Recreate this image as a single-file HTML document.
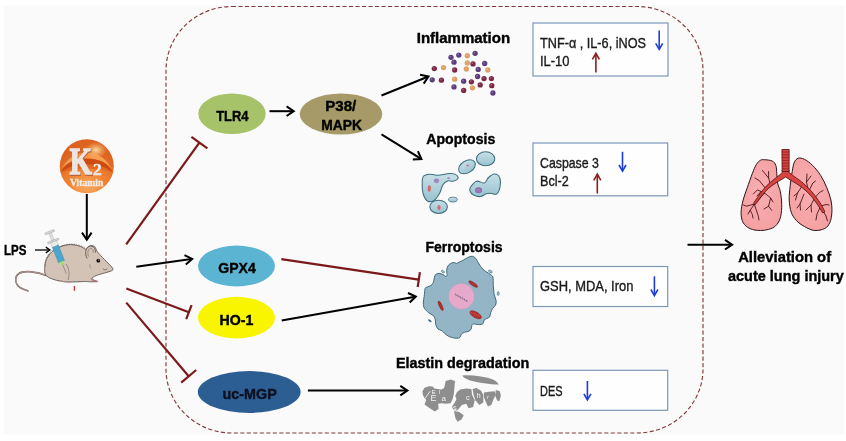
<!DOCTYPE html>
<html><head><meta charset="utf-8"><style>
html,body{margin:0;padding:0;background:#ffffff;}
svg{display:block;will-change:transform;}
text{-webkit-font-smoothing:antialiased;}
</style></head><body>
<svg width="846" height="441" viewBox="0 0 846 441">
<rect width="846" height="441" fill="#ffffff"/>
<rect x="4" y="5.5" width="840" height="429" fill="#fafafa"/>
<rect x="166" y="6.5" width="537" height="426.5" rx="66" ry="64" fill="none" stroke="#843a3a" stroke-width="1.15" stroke-dasharray="4.1 2.4"/>
<ellipse cx="232" cy="113.8" rx="33.7" ry="20.3" fill="#a6c36a"/>
<ellipse cx="341" cy="114" rx="41.3" ry="20.5" fill="#a59a68"/>
<ellipse cx="236.5" cy="266" rx="38.5" ry="20.4" fill="#5ab4d2"/>
<ellipse cx="236.5" cy="317.6" rx="38.5" ry="20.8" fill="#f9f500"/>
<ellipse cx="249.2" cy="392" rx="51.4" ry="20.9" fill="#2c5e94"/>
<text x="216.2" y="120.7" font-family="Liberation Sans" font-size="15" font-weight="bold" fill="#000" stroke="#000" stroke-width="0.4" text-anchor="start" textLength="32.3" lengthAdjust="spacingAndGlyphs" >TLR4</text>
<text x="325.3" y="110.8" font-family="Liberation Sans" font-size="15" font-weight="bold" fill="#000" stroke="#000" stroke-width="0.4" text-anchor="start" textLength="31" lengthAdjust="spacingAndGlyphs" >P38/</text>
<text x="321.2" y="129.7" font-family="Liberation Sans" font-size="15" font-weight="bold" fill="#000" stroke="#000" stroke-width="0.4" text-anchor="start" textLength="40.7" lengthAdjust="spacingAndGlyphs" >MAPK</text>
<text x="218.3" y="273.3" font-family="Liberation Sans" font-size="15" font-weight="bold" fill="#000" stroke="#000" stroke-width="0.4" text-anchor="start" textLength="37.5" lengthAdjust="spacingAndGlyphs" >GPX4</text>
<text x="219.5" y="324.8" font-family="Liberation Sans" font-size="15" font-weight="bold" fill="#000" stroke="#000" stroke-width="0.4" text-anchor="start" textLength="33.9" lengthAdjust="spacingAndGlyphs" >HO-1</text>
<text x="222.6" y="398.6" font-family="Liberation Sans" font-size="15" font-weight="bold" fill="#0b1020" stroke="#0b1020" stroke-width="0.4" text-anchor="start" textLength="54.2" lengthAdjust="spacingAndGlyphs" >uc-MGP</text>
<text x="416.8" y="43.3" font-family="Liberation Sans" font-size="15" font-weight="bold" fill="#000" stroke="#000" stroke-width="0.4" text-anchor="start" textLength="93.3" lengthAdjust="spacingAndGlyphs" >Inflammation</text>
<text x="426.3" y="144.3" font-family="Liberation Sans" font-size="15" font-weight="bold" fill="#000" stroke="#000" stroke-width="0.4" text-anchor="start" textLength="69" lengthAdjust="spacingAndGlyphs" >Apoptosis</text>
<text x="425.4" y="252.3" font-family="Liberation Sans" font-size="15" font-weight="bold" fill="#000" stroke="#000" stroke-width="0.4" text-anchor="start" textLength="77.2" lengthAdjust="spacingAndGlyphs" >Ferroptosis</text>
<text x="395.9" y="368.4" font-family="Liberation Sans" font-size="15" font-weight="bold" fill="#000" stroke="#000" stroke-width="0.4" text-anchor="start" textLength="133.3" lengthAdjust="spacingAndGlyphs" >Elastin degradation</text>
<text x="738.2" y="261.5" font-family="Liberation Sans" font-size="15" font-weight="bold" fill="#000" stroke="#000" stroke-width="0.4" text-anchor="start" textLength="92.9" lengthAdjust="spacingAndGlyphs" >Alleviation of</text>
<text x="728.0" y="280.7" font-family="Liberation Sans" font-size="15" font-weight="bold" fill="#000" stroke="#000" stroke-width="0.4" text-anchor="start" textLength="115.8" lengthAdjust="spacingAndGlyphs" >acute lung injury</text>
<text x="4.0" y="254.6" font-family="Liberation Sans" font-size="15" font-weight="bold" fill="#000" stroke="#000" stroke-width="0.4" text-anchor="start" textLength="22.5" lengthAdjust="spacingAndGlyphs" >LPS</text>
<line x1="269.5" y1="111.2" x2="292.9" y2="111.2" stroke="#000" stroke-width="2.0"/>
<polyline points="286.6,116.0 293.7,111.2 286.6,106.4" fill="none" stroke="#000" stroke-width="2.0" stroke-linejoin="miter" stroke-linecap="butt"/>
<line x1="381.5" y1="95.5" x2="427.8" y2="76.8" stroke="#000" stroke-width="2.0"/>
<polyline points="423.7,83.6 428.5,76.5 420.1,74.7" fill="none" stroke="#000" stroke-width="2.0" stroke-linejoin="miter" stroke-linecap="butt"/>
<line x1="381.5" y1="134.3" x2="420.7" y2="158.6" stroke="#000" stroke-width="2.0"/>
<polyline points="412.8,159.4 421.4,159.0 417.9,151.2" fill="none" stroke="#000" stroke-width="2.0" stroke-linejoin="miter" stroke-linecap="butt"/>
<line x1="136.3" y1="266.7" x2="191.4" y2="259.0" stroke="#000" stroke-width="2.0"/>
<polyline points="185.8,264.6 192.2,258.9 184.5,255.1" fill="none" stroke="#000" stroke-width="2.0" stroke-linejoin="miter" stroke-linecap="butt"/>
<line x1="281.7" y1="320.4" x2="415.0" y2="296.7" stroke="#000" stroke-width="2.0"/>
<polyline points="409.7,302.5 415.8,296.5 408.0,293.0" fill="none" stroke="#000" stroke-width="2.0" stroke-linejoin="miter" stroke-linecap="butt"/>
<line x1="307.9" y1="390.6" x2="406.6" y2="390.6" stroke="#000" stroke-width="2.0"/>
<polyline points="400.3,395.4 407.4,390.6 400.3,385.8" fill="none" stroke="#000" stroke-width="2.0" stroke-linejoin="miter" stroke-linecap="butt"/>
<line x1="687.5" y1="244.7" x2="731.3" y2="244.7" stroke="#000" stroke-width="2.0"/>
<polyline points="725.0,249.5 732.1,244.7 725.0,239.9" fill="none" stroke="#000" stroke-width="2.0" stroke-linejoin="miter" stroke-linecap="butt"/>
<line x1="86.8" y1="194.0" x2="86.8" y2="238.9" stroke="#000" stroke-width="2.0"/>
<polyline points="82.0,232.6 86.8,239.7 91.6,232.6" fill="none" stroke="#000" stroke-width="2.0" stroke-linejoin="miter" stroke-linecap="butt"/>
<line x1="35.0" y1="250.0" x2="49.1" y2="250.0" stroke="#000" stroke-width="1.3"/>
<polyline points="45.8,252.9 49.9,250.0 45.8,247.1" fill="none" stroke="#000" stroke-width="1.3" stroke-linejoin="miter" stroke-linecap="butt"/>
<line x1="126.2" y1="244.4" x2="199.4" y2="142.6" stroke="#7b1a1a" stroke-width="2.2"/>
<line x1="207.4" y1="148.3" x2="191.4" y2="136.9" stroke="#7b1a1a" stroke-width="2.2"/>
<line x1="126.3" y1="288.5" x2="188.9" y2="312.2" stroke="#7b1a1a" stroke-width="2.2"/>
<line x1="186.2" y1="319.2" x2="191.6" y2="305.2" stroke="#7b1a1a" stroke-width="2.2"/>
<line x1="126.3" y1="302.6" x2="188.7" y2="376.3" stroke="#7b1a1a" stroke-width="2.2"/>
<line x1="181.2" y1="382.6" x2="196.2" y2="370.0" stroke="#7b1a1a" stroke-width="2.2"/>
<line x1="281.3" y1="259.1" x2="418.8" y2="279.6" stroke="#7b1a1a" stroke-width="2.2"/>
<line x1="417.7" y1="287.0" x2="419.9" y2="272.2" stroke="#7b1a1a" stroke-width="2.2"/>
<rect x="533" y="23" width="135" height="53" fill="#fefefe" stroke="#7d97b7" stroke-width="1.2"/>
<rect x="533" y="143" width="134.7" height="52.8" fill="#fefefe" stroke="#7d97b7" stroke-width="1.2"/>
<rect x="533" y="266.5" width="134.7" height="40" fill="#fefefe" stroke="#7d97b7" stroke-width="1.2"/>
<rect x="533" y="370.3" width="134.7" height="40" fill="#fefefe" stroke="#7d97b7" stroke-width="1.2"/>
<text x="540.0" y="47.8" font-family="Liberation Sans" font-size="14.1" font-weight="normal" fill="#1a1a1a" stroke="#1a1a1a" stroke-width="0.35" text-anchor="start" textLength="106" lengthAdjust="spacingAndGlyphs" >TNF-α , IL-6, iNOS</text>
<text x="540.0" y="65.5" font-family="Liberation Sans" font-size="14.1" font-weight="normal" fill="#1a1a1a" stroke="#1a1a1a" stroke-width="0.35" text-anchor="start" textLength="29.5" lengthAdjust="spacingAndGlyphs" >IL-10</text>
<text x="540.0" y="167.8" font-family="Liberation Sans" font-size="14.1" font-weight="normal" fill="#1a1a1a" stroke="#1a1a1a" stroke-width="0.35" text-anchor="start" textLength="58.9" lengthAdjust="spacingAndGlyphs" >Caspase 3</text>
<text x="540.0" y="185.5" font-family="Liberation Sans" font-size="14.1" font-weight="normal" fill="#1a1a1a" stroke="#1a1a1a" stroke-width="0.35" text-anchor="start" textLength="28.7" lengthAdjust="spacingAndGlyphs" >Bcl-2</text>
<text x="540.0" y="291.3" font-family="Liberation Sans" font-size="14.1" font-weight="normal" fill="#1a1a1a" stroke="#1a1a1a" stroke-width="0.35" text-anchor="start" textLength="93.4" lengthAdjust="spacingAndGlyphs" >GSH, MDA, Iron</text>
<text x="540.0" y="395.5" font-family="Liberation Sans" font-size="14.1" font-weight="normal" fill="#1a1a1a" stroke="#1a1a1a" stroke-width="0.35" text-anchor="start" textLength="22.5" lengthAdjust="spacingAndGlyphs" >DES</text>
<line x1="659.2" y1="30.6" x2="659.2" y2="48.6" stroke="#1b3fd6" stroke-width="1.6"/>
<polyline points="655.7,43.3 659.2,49.4 662.7,43.3" fill="none" stroke="#1b3fd6" stroke-width="1.6" stroke-linejoin="miter" stroke-linecap="butt"/>
<line x1="595.9" y1="72.6" x2="595.9" y2="54.1" stroke="#8b1c1c" stroke-width="1.6"/>
<polyline points="599.4,59.4 595.9,53.3 592.4,59.4" fill="none" stroke="#8b1c1c" stroke-width="1.6" stroke-linejoin="miter" stroke-linecap="butt"/>
<line x1="622.5" y1="151.8" x2="622.5" y2="170.3" stroke="#1b3fd6" stroke-width="1.6"/>
<polyline points="619.0,165.0 622.5,171.1 626.0,165.0" fill="none" stroke="#1b3fd6" stroke-width="1.6" stroke-linejoin="miter" stroke-linecap="butt"/>
<line x1="597.3" y1="193.5" x2="597.3" y2="175.0" stroke="#8b1c1c" stroke-width="1.6"/>
<polyline points="600.8,180.3 597.3,174.2 593.8,180.3" fill="none" stroke="#8b1c1c" stroke-width="1.6" stroke-linejoin="miter" stroke-linecap="butt"/>
<line x1="654.4" y1="276.3" x2="654.4" y2="294.8" stroke="#1b3fd6" stroke-width="1.6"/>
<polyline points="650.9,289.5 654.4,295.6 657.9,289.5" fill="none" stroke="#1b3fd6" stroke-width="1.6" stroke-linejoin="miter" stroke-linecap="butt"/>
<line x1="587.4" y1="381.0" x2="587.4" y2="399.2" stroke="#1b3fd6" stroke-width="1.6"/>
<polyline points="583.9,393.9 587.4,400.0 590.9,393.9" fill="none" stroke="#1b3fd6" stroke-width="1.6" stroke-linejoin="miter" stroke-linecap="butt"/>
<defs>
<radialGradient id="kb" cx="50%" cy="88%" r="70%">
<stop offset="0" stop-color="#f8a555"/><stop offset="0.5" stop-color="#f08232"/><stop offset="1" stop-color="#dc6420"/>
</radialGradient>
<linearGradient id="kh" x1="0" y1="0" x2="0" y2="1">
<stop offset="0" stop-color="#f28a3c"/><stop offset="0.35" stop-color="#f7a050"/><stop offset="1" stop-color="#f59a48"/>
</linearGradient>
<radialGradient id="kg" cx="50%" cy="50%" r="50%">
<stop offset="0" stop-color="#fde0a0" stop-opacity="0.95"/><stop offset="1" stop-color="#fcc080" stop-opacity="0"/>
</radialGradient>
<radialGradient id="lungg" cx="50%" cy="45%" r="60%">
<stop offset="0" stop-color="#f9aeb0"/><stop offset="1" stop-color="#f4a0a2"/>
</radialGradient>
<linearGradient id="apo" x1="0" y1="0" x2="0" y2="1">
<stop offset="0" stop-color="#c8e0e8"/><stop offset="1" stop-color="#98c2d0"/>
</linearGradient>
</defs>
<circle cx="86.8" cy="166.2" r="27" fill="url(#kb)"/>
<path d="M61.5,170.5 A26.7,26.7 0 0 1 111.9,170.5 C108,163 99,158.8 86.8,158.5 C75,158.8 65.5,163 61.5,170.5Z" fill="url(#kh)"/>
<path d="M61.5,170.5 C65.5,163 75,158.8 86.8,158.5 C99,158.8 108,163 111.9,170.5 L112.6,172.5 C108,168.5 100,165 86.8,164.6 C74,165 66,168.5 61,172.5Z" fill="#cf4a12"/>
<path d="M61,172.5 C66,168.5 74,165 86.8,164.6 C100,165 108,168.5 112.6,172.5 C108,170.8 100,168.6 86.8,168.4 C74,168.6 66,170.8 61,172.5Z" fill="#e0621c" fill-opacity="0.8"/>
<ellipse cx="96" cy="150" rx="11" ry="8" fill="url(#kg)"/>
<ellipse cx="86.7" cy="187" rx="12" ry="5" fill="#f7a25a" fill-opacity="0.45"/>
<text x="0" y="0" font-family="Liberation Serif" font-weight="bold" font-size="38.5" fill="#b8643a" stroke="#b8643a" stroke-width="1.8" transform="translate(70.3,174.6) scale(0.74,1)">K</text>
<text x="0" y="0" font-family="Liberation Serif" font-weight="bold" font-size="38.5" fill="#ebe4e0" stroke="#ebe4e0" stroke-width="1.6" transform="translate(69.7,173.8) scale(0.74,1)">K</text>
<text x="93" y="175.2" font-family="Liberation Serif" font-weight="bold" font-size="17.5" fill="#ede6e2" stroke="#ede6e2" stroke-width="0.5">2</text>
<text x="69.9" y="185.7" font-family="Liberation Serif" font-weight="bold" font-size="10.8" fill="#f3ece6" stroke="#f3ece6" stroke-width="0.3" textLength="33.4" lengthAdjust="spacingAndGlyphs">Vitamin</text>
<path d="M46,275.5 C38,272 24,270 19,273.5 C14,277 15,284 20,287.5 C23,289.5 26,290 28,291" fill="none" stroke="#6d5a55" stroke-width="1.6" stroke-linecap="round"/>
<path d="M46,275.5 C38,272 24,270 19,273.5 C14,277 15,284 20,287.5 C23,289.5 26,290 28,291" fill="none" stroke="#d8b8b8" stroke-width="0.7" stroke-linecap="round"/>
<path d="M45.5,274.8 C44.3,272.7 44.7,268.9 44.9,266.2 C45.1,263.5 45.5,261.2 46.7,258.8 C47.9,256.4 49.8,253.6 52.3,251.5 C54.8,249.4 58.7,247.2 62.0,246.0 C65.3,244.8 68.8,244.5 71.9,244.6 C75.0,244.7 78.1,245.6 80.4,246.4 C82.7,247.2 84.6,249.1 85.8,249.2 C87.0,249.3 86.6,247.8 87.5,247.2 C88.4,246.6 89.8,245.7 91.0,245.6 C92.2,245.5 93.9,246.0 94.8,246.8 C95.7,247.6 95.8,249.2 96.6,250.5 C97.4,251.8 97.9,252.5 99.5,254.3 C101.1,256.1 104.0,259.0 106.2,261.3 C108.4,263.6 111.7,266.6 112.6,268.2 C113.5,269.8 113.0,270.0 111.5,270.8 C110.0,271.6 106.3,272.4 103.7,273.2 C101.1,274.0 98.0,274.7 96.0,275.6 C94.0,276.5 92.2,277.6 92.0,278.4 C91.8,279.2 94.1,280.1 95.0,280.6 C95.9,281.1 98.3,281.4 97.5,281.6 C96.7,281.8 92.0,281.8 90.0,281.8 C88.0,281.8 87.5,281.5 85.3,281.5 C83.1,281.5 79.6,281.7 76.8,281.8 C74.0,281.9 71.2,282.1 68.5,282.0 C65.8,281.9 63.5,281.7 60.8,281.2 C58.1,280.7 54.8,280.1 52.3,279.0 C49.8,277.9 46.7,276.9 45.5,274.8Z" fill="#d3c3b7" stroke="#5e5652" stroke-width="0.9"/>
<path d="M44.9,266.2 C45.5,258 49,253 53,250.5 C60,246 68,244 72,244.3 C78,244.8 82,246 85,248" fill="none" stroke="#6a625e" stroke-width="1.6" stroke-dasharray="0.5 1.2"/>
<path d="M87.2,258.5 C84.6,254 85.3,248 89.4,246.3 C93.2,245.2 95.8,248.6 95.4,252.6" fill="#d5c5b7" stroke="#5e5652" stroke-width="0.9"/>
<path d="M88.6,256.5 C87.2,253 88,249.2 90.4,248.4 C92.4,248 93.6,250.4 93.2,252.8" fill="none" stroke="#7a6e6a" stroke-width="0.7"/>
<circle cx="98.3" cy="260.7" r="1.9" fill="#111"/><circle cx="98.8" cy="260.1" r="0.5" fill="#fff"/>
<path d="M103,268.8 C104.5,270.3 106.3,270 107.3,268.6" fill="none" stroke="#6a5a55" stroke-width="0.8"/>
<path d="M90,264 C89.5,266 90,268 91.5,269" fill="none" stroke="#8a7e78" stroke-width="0.6"/>
<path d="M66,264 C69,268 70,274 68,280" fill="none" stroke="#7a6e6a" stroke-width="0.7"/>
<path d="M90.5,278.8 C92,280.5 95,281.2 98,281.4" fill="none" stroke="#c47070" stroke-width="1"/>
<path d="M61,281 C64,282 68,282 71,281.6" fill="none" stroke="#b28a8a" stroke-width="1"/>
<line x1="74.4" y1="286" x2="74.4" y2="290.8" stroke="#d03030" stroke-width="1.3"/>
<g transform="translate(49.6,231.8) rotate(-21.7)"><rect x="-5" y="-0.6" width="10" height="2" rx="0.5" fill="#d9d9d9" stroke="#9a9a9a" stroke-width="0.4"/><rect x="-1.3" y="1.4" width="2.6" height="8" fill="#e2e2e2" stroke="#a8a8a8" stroke-width="0.4"/><rect x="-6" y="9" width="12" height="1.8" rx="0.5" fill="#d6d6d6" stroke="#9a9a9a" stroke-width="0.4"/><rect x="-3.2" y="10.8" width="6.4" height="5" fill="#ececec" stroke="#a8a8a8" stroke-width="0.4"/><rect x="-3.2" y="15.5" width="6.4" height="16.5" fill="#4ba6cf" stroke="#3b80a5" stroke-width="0.4"/><path d="M-2.4,32 L2.4,32 L1.1,36 L-1.1,36Z" fill="#a6dc70"/><line x1="0" y1="35.5" x2="0" y2="45" stroke="#777" stroke-width="0.6"/></g>
<circle cx="451" cy="57.3" r="2.65" fill="#5b3c7c"/>
<circle cx="450.4" cy="56.599999999999994" r="0.9" fill="#fff" fill-opacity="0.25"/>
<circle cx="458.8" cy="55.1" r="2.65" fill="#5b3c7c"/>
<circle cx="458.2" cy="54.4" r="0.9" fill="#fff" fill-opacity="0.25"/>
<circle cx="467.3" cy="55.7" r="2.65" fill="#dca065"/>
<circle cx="466.7" cy="55.0" r="0.9" fill="#fff" fill-opacity="0.25"/>
<circle cx="475.1" cy="53.3" r="2.65" fill="#5b3c7c"/>
<circle cx="474.5" cy="52.599999999999994" r="0.9" fill="#fff" fill-opacity="0.25"/>
<circle cx="454" cy="62.2" r="2.65" fill="#5b3c7c"/>
<circle cx="453.4" cy="61.5" r="0.9" fill="#fff" fill-opacity="0.25"/>
<circle cx="467.3" cy="62.9" r="2.65" fill="#dca065"/>
<circle cx="466.7" cy="62.199999999999996" r="0.9" fill="#fff" fill-opacity="0.25"/>
<circle cx="473" cy="63.9" r="2.65" fill="#7d2747"/>
<circle cx="472.4" cy="63.199999999999996" r="0.9" fill="#fff" fill-opacity="0.25"/>
<circle cx="484.7" cy="63.5" r="2.65" fill="#5b3c7c"/>
<circle cx="484.09999999999997" cy="62.8" r="0.9" fill="#fff" fill-opacity="0.25"/>
<circle cx="434.3" cy="68.6" r="2.65" fill="#7d2747"/>
<circle cx="433.7" cy="67.89999999999999" r="0.9" fill="#fff" fill-opacity="0.25"/>
<circle cx="443.5" cy="67.6" r="2.65" fill="#dca065"/>
<circle cx="442.9" cy="66.89999999999999" r="0.9" fill="#fff" fill-opacity="0.25"/>
<circle cx="454.7" cy="70" r="2.65" fill="#7d2747"/>
<circle cx="454.09999999999997" cy="69.3" r="0.9" fill="#fff" fill-opacity="0.25"/>
<circle cx="466.3" cy="69" r="2.65" fill="#dca065"/>
<circle cx="465.7" cy="68.3" r="0.9" fill="#fff" fill-opacity="0.25"/>
<circle cx="478.2" cy="69.4" r="2.65" fill="#5b3c7c"/>
<circle cx="477.59999999999997" cy="68.7" r="0.9" fill="#fff" fill-opacity="0.25"/>
<circle cx="487.8" cy="70" r="2.65" fill="#dca065"/>
<circle cx="487.2" cy="69.3" r="0.9" fill="#fff" fill-opacity="0.25"/>
<circle cx="432.2" cy="79.8" r="2.65" fill="#5b3c7c"/>
<circle cx="431.59999999999997" cy="79.1" r="0.9" fill="#fff" fill-opacity="0.25"/>
<circle cx="441.4" cy="80.2" r="2.65" fill="#7d2747"/>
<circle cx="440.79999999999995" cy="79.5" r="0.9" fill="#fff" fill-opacity="0.25"/>
<circle cx="454.7" cy="79.2" r="2.65" fill="#dca065"/>
<circle cx="454.09999999999997" cy="78.5" r="0.9" fill="#fff" fill-opacity="0.25"/>
<circle cx="463.7" cy="81.2" r="2.65" fill="#5b3c7c"/>
<circle cx="463.09999999999997" cy="80.5" r="0.9" fill="#fff" fill-opacity="0.25"/>
<circle cx="471.4" cy="81.8" r="2.65" fill="#7d2747"/>
<circle cx="470.79999999999995" cy="81.1" r="0.9" fill="#fff" fill-opacity="0.25"/>
<circle cx="477.6" cy="76.5" r="2.65" fill="#5b3c7c"/>
<circle cx="477.0" cy="75.8" r="0.9" fill="#fff" fill-opacity="0.25"/>
<circle cx="484" cy="78.6" r="2.65" fill="#7d2747"/>
<circle cx="483.4" cy="77.89999999999999" r="0.9" fill="#fff" fill-opacity="0.25"/>
<circle cx="491.4" cy="78.6" r="2.65" fill="#7d2747"/>
<circle cx="490.79999999999995" cy="77.89999999999999" r="0.9" fill="#fff" fill-opacity="0.25"/>
<circle cx="454" cy="86.9" r="2.65" fill="#5b3c7c"/>
<circle cx="453.4" cy="86.2" r="0.9" fill="#fff" fill-opacity="0.25"/>
<circle cx="463.7" cy="90.4" r="2.65" fill="#7d2747"/>
<circle cx="463.09999999999997" cy="89.7" r="0.9" fill="#fff" fill-opacity="0.25"/>
<circle cx="472.4" cy="87.8" r="2.65" fill="#dca065"/>
<circle cx="471.79999999999995" cy="87.1" r="0.9" fill="#fff" fill-opacity="0.25"/>
<circle cx="480.2" cy="84.9" r="2.65" fill="#7d2747"/>
<circle cx="479.59999999999997" cy="84.2" r="0.9" fill="#fff" fill-opacity="0.25"/>
<circle cx="491.8" cy="85.7" r="2.65" fill="#7d2747"/>
<circle cx="491.2" cy="85.0" r="0.9" fill="#fff" fill-opacity="0.25"/>
<circle cx="492.9" cy="93" r="2.65" fill="#5b3c7c"/>
<circle cx="492.29999999999995" cy="92.3" r="0.9" fill="#fff" fill-opacity="0.25"/>
<path d="M423.3,176.5 C424.6,174.7 427.6,174.4 430.0,174.2 C432.4,174.0 435.3,175.2 438.0,175.2 C440.7,175.2 443.7,174.3 446.0,174.0 C448.3,173.7 450.2,173.3 452.0,173.6 C453.8,173.8 456.1,174.6 457.0,175.5 C457.9,176.4 458.3,178.1 457.6,179.0 C456.9,179.9 454.7,180.9 453.0,181.2 C451.3,181.5 449.2,180.4 447.5,181.0 C445.8,181.6 444.1,182.9 442.8,185.0 C441.5,187.1 441.0,190.9 439.5,193.5 C438.0,196.1 436.0,199.2 434.0,200.5 C432.0,201.8 429.3,202.1 427.5,201.0 C425.7,199.9 424.1,196.7 423.2,194.0 C422.3,191.3 422.2,187.9 422.2,185.0 C422.2,182.1 422.0,178.3 423.3,176.5Z" fill="url(#apo)" stroke="#3e6e7c" stroke-width="1.05"/>
<ellipse cx="438.6" cy="206.8" rx="8.8" ry="6.6" fill="url(#apo)" stroke="#3e6e7c" stroke-width="1.05"/>
<ellipse cx="452.9" cy="199.6" rx="4.4" ry="2.4" fill="url(#apo)" stroke="#3e6e7c" stroke-width="0.8"/>
<ellipse cx="467" cy="166.8" rx="9.2" ry="6" transform="rotate(-32 467 166.8)" fill="url(#apo)" stroke="#3e6e7c" stroke-width="1.05"/>
<ellipse cx="485.6" cy="158.8" rx="9.2" ry="7" fill="url(#apo)" stroke="#3e6e7c" stroke-width="1.05"/>
<path d="M470.6,187.0 C471.7,185.4 474.2,181.9 476.5,181.2 C478.8,180.5 482.5,183.6 484.5,183.0 C486.5,182.4 486.8,179.0 488.5,177.5 C490.2,176.0 492.6,174.0 494.5,174.0 C496.4,174.0 498.7,175.3 499.6,177.5 C500.5,179.7 500.5,184.2 500.0,187.0 C499.5,189.8 498.1,193.0 496.5,194.0 C494.9,195.0 492.2,193.2 490.5,193.2 C488.8,193.2 487.7,193.2 486.0,193.8 C484.3,194.4 482.6,196.4 480.5,196.6 C478.4,196.8 475.2,195.9 473.5,195.0 C471.8,194.1 470.5,192.3 470.0,191.0 C469.5,189.7 469.5,188.6 470.6,187.0Z" fill="url(#apo)" stroke="#3e6e7c" stroke-width="1.05"/>
<ellipse cx="436.5" cy="180.8" rx="2.4" ry="2" fill="#a58ac0" stroke="#7a6098" stroke-width="0.4"/>
<ellipse cx="429.3" cy="188.5" rx="1.6" ry="3.2" fill="#d26a6a"/>
<ellipse cx="439" cy="207.5" rx="1.6" ry="2.6" fill="#d26a6a"/>
<ellipse cx="478.6" cy="190.2" rx="3.2" ry="2.6" fill="#9a78b8" stroke="#6a4d8a" stroke-width="0.5"/>
<ellipse cx="467.5" cy="165.5" rx="1.5" ry="1" fill="#c07a9a"/>
<ellipse cx="448.6" cy="178.2" rx="1.4" ry="1.1" fill="#b08ac0"/>
<path d="M424.8,290.2 C425.0,288.8 424.9,288.4 425.4,287.8 C425.9,287.2 426.7,287.3 427.6,286.9 C428.5,286.5 430.1,286.1 431.0,285.4 C431.9,284.7 432.8,283.9 433.3,282.6 C433.9,281.3 433.9,279.2 434.3,277.8 C434.7,276.4 434.9,275.2 435.7,274.5 C436.5,273.8 437.8,273.5 439.0,273.5 C440.2,273.5 441.8,274.0 442.9,274.5 C444.0,275.0 445.0,276.2 445.7,276.4 C446.4,276.5 446.9,276.3 447.1,275.4 C447.3,274.5 446.6,272.6 446.7,271.1 C446.8,269.6 447.0,267.7 447.6,266.4 C448.2,265.1 449.5,264.1 450.5,263.5 C451.5,262.9 452.8,262.6 453.8,262.6 C454.8,262.6 456.0,263.5 456.7,263.5 C457.4,263.5 457.2,263.0 458.1,262.6 C459.0,262.2 460.6,261.6 461.8,261.0 C463.1,260.4 464.3,259.4 465.6,258.7 C466.9,258.0 468.3,257.2 469.4,256.8 C470.5,256.4 471.4,256.2 472.3,256.3 C473.2,256.4 474.3,257.0 475.1,257.7 C475.9,258.4 476.2,259.3 477.0,260.6 C477.8,261.9 478.9,263.9 479.9,265.3 C480.9,266.7 481.7,268.0 482.8,269.1 C483.9,270.2 485.3,271.1 486.6,272.0 C487.9,272.9 489.4,273.6 490.4,274.4 C491.4,275.2 492.3,275.8 492.8,276.8 C493.3,277.8 493.1,279.2 493.2,280.6 C493.3,282.0 493.1,283.7 493.2,285.3 C493.3,286.9 493.5,288.6 493.7,290.1 C493.9,291.6 493.8,292.7 494.2,294.5 C494.6,296.3 495.9,298.9 496.1,300.7 C496.3,302.5 496.1,303.8 495.5,305.1 C494.9,306.4 493.6,307.0 492.8,308.3 C492.0,309.6 491.1,311.2 490.6,312.7 C490.1,314.1 490.3,316.0 489.6,317.0 C488.9,318.0 487.2,318.1 486.3,318.7 C485.4,319.2 484.7,319.5 484.1,320.3 C483.6,321.1 483.7,322.9 483.0,323.6 C482.3,324.3 481.2,324.5 479.8,324.6 C478.4,324.7 475.6,324.1 474.3,324.1 C473.0,324.1 472.6,323.8 472.1,324.6 C471.6,325.4 471.6,327.9 471.1,329.0 C470.6,330.1 470.0,330.6 468.9,331.2 C467.8,331.8 465.7,331.8 464.5,332.3 C463.3,332.8 462.3,333.1 461.5,334.0 C460.7,334.9 460.6,336.8 459.8,337.5 C459.1,338.2 458.2,338.2 457.0,338.2 C455.8,338.2 454.1,338.0 452.6,337.7 C451.2,337.4 449.7,336.8 448.3,336.1 C446.9,335.4 445.6,334.2 444.5,333.3 C443.4,332.4 442.9,331.3 441.8,330.6 C440.7,329.9 439.0,330.0 438.0,329.0 C437.0,328.0 436.3,326.2 435.8,324.6 C435.3,323.0 435.6,320.7 435.2,319.2 C434.8,317.7 434.2,316.5 433.1,315.4 C432.0,314.3 430.1,313.9 428.7,312.7 C427.2,311.5 425.3,309.9 424.4,308.3 C423.5,306.7 423.3,304.9 423.3,302.9 C423.3,300.9 423.9,298.5 424.2,296.4 C424.4,294.3 424.6,291.6 424.8,290.2Z" fill="#93b5c6" stroke="#3d6b7a" stroke-width="1"/>
<circle cx="461.4" cy="296.4" r="12.6" fill="#e7a9ca"/>
<circle cx="461.4" cy="296.4" r="12.8" fill="none" stroke="#d99ec0" stroke-width="0.8" stroke-dasharray="0.7 0.7"/>
<line x1="455.5" y1="293.6" x2="456.1" y2="295.6" stroke="#6a5a7e" stroke-width="0.9"/>
<line x1="457.7" y1="294.9" x2="458.3" y2="296.9" stroke="#6a5a7e" stroke-width="0.9"/>
<line x1="459.9" y1="296.2" x2="460.5" y2="298.2" stroke="#6a5a7e" stroke-width="0.9"/>
<line x1="462.1" y1="297.4" x2="462.7" y2="299.4" stroke="#6a5a7e" stroke-width="0.9"/>
<line x1="464.3" y1="298.7" x2="464.9" y2="300.7" stroke="#6a5a7e" stroke-width="0.9"/>
<line x1="466.5" y1="300.0" x2="467.1" y2="302.0" stroke="#6a5a7e" stroke-width="0.9"/>
<line x1="455.8" y1="294.6" x2="466.8" y2="301" stroke="#8a6a8e" stroke-width="0.4"/>
<ellipse cx="473.2" cy="284.1" rx="5.2" ry="1.6" transform="rotate(34 473.2 284.1)" fill="#b3302e" stroke="#7a1a1a" stroke-width="0.4"/>
<ellipse cx="440.7" cy="305.8" rx="5.1" ry="1.5" transform="rotate(65 440.7 305.8)" fill="#b3302e" stroke="#7a1a1a" stroke-width="0.4"/>
<ellipse cx="475.6" cy="314.8" rx="6.5" ry="2.9" transform="rotate(30 475.6 314.8)" fill="#b3302e" stroke="#7a1a1a" stroke-width="0.4"/>
<path d="M471,312 l1,2 M473.5,312.5 l1,2.3 M476,313.5 l1,2.3 M478.5,314.5 l0.8,2" stroke="#e07070" stroke-width="0.5"/>
<ellipse cx="442.9" cy="271.6" rx="1.7" ry="1" transform="rotate(35 442.9 271.6)" fill="#a9c8d3" stroke="#3d6b7a" stroke-width="0.6"/>
<ellipse cx="490.4" cy="271.5" rx="2" ry="1.1" transform="rotate(30 490.4 271.5)" fill="#a9c8d3" stroke="#3d6b7a" stroke-width="0.6"/>
<ellipse cx="498.2" cy="293.5" rx="1" ry="1.9" fill="#a9c8d3" stroke="#3d6b7a" stroke-width="0.6"/>
<ellipse cx="429.8" cy="320.8" rx="2" ry="0.9" transform="rotate(35 429.8 320.8)" fill="#3d6b7a"/>
<polygon points="422.4,391.3 424.5,387.8 428.9,386.2 432.7,386.4 434.3,388.6 441.4,389.4 444.1,388.1 445.7,381 450.6,379.6 455,381 454.5,387 453.9,393.5 452.8,398.4 450.6,403.3 445.7,403.8 441.4,403.3 438.1,403.8 438.7,408.7 434.9,411.5 430.5,408.7 424.5,404.4 426.2,400 424.5,397.9 422.9,395.1" fill="#8e8e8e"/>
<polygon points="453.9,410.9 459.3,412 463.7,415.3 461.5,419.6 457.7,421.8 455.5,418.5" fill="#8e8e8e"/>
<polygon points="457,392 460.1,389.6 466.3,388.4 471.4,389 472,394.7 474.8,400.3 473.1,407.1 468.6,408.3 466.3,403.7 461.8,404.9 459,408.5 457,410.5 453.5,410 452,406.5 454.5,403 456.5,399 455.2,396" fill="#8e8e8e"/>
<polygon points="472.6,389 476.5,387.9 481.1,390.7 483.3,394.7 483.3,402.6 479.4,404.9 475.4,400.3 473.6,394.7" fill="#8e8e8e"/>
<polygon points="483.9,392.4 489,391.8 494.7,391.3 495.8,394.7 493.5,399.2 491.3,404.9 487.9,406.6 485.6,401.5 483.9,397" fill="#8e8e8e"/>
<polygon points="495.8,390.1 499.8,391.3 500.9,395.8 499.2,401.5 497,400.3 495.3,395.8" fill="#8e8e8e"/>
<path d="M462.2,375.6 C470,374.6 482,376 490,378.5 C494,379.8 497,381.5 498.9,384.6 C490,384.4 478,382.6 470,380.4 C466,379.2 463.5,377.6 462.2,375.6Z" fill="#8e8e8e"/>
<line x1="425" y1="398.6" x2="430.2" y2="391.2" stroke="#fcfcfc" stroke-width="0.8"/>
<text x="430.6" y="400.6" font-family="Liberation Sans" font-size="9" fill="#f4f4f4">E</text>
<text x="431.5" y="393.6" font-family="Liberation Sans" font-size="6" fill="#f4f4f4">E</text>
<text x="439" y="394" font-family="Liberation Sans" font-size="6" fill="#f4f4f4">l</text>
<text x="441.5" y="401" font-family="Liberation Sans" font-size="8" fill="#f4f4f4">a</text>
<text x="453" y="410" font-family="Liberation Sans" font-size="7.5" fill="#f4f4f4">s</text>
<text x="466" y="400" font-family="Liberation Sans" font-size="7.5" fill="#f4f4f4">c</text>
<text x="476.5" y="397.5" font-family="Liberation Sans" font-size="7.5" fill="#f4f4f4">h</text>
<text x="487" y="399" font-family="Liberation Sans" font-size="6" fill="#f4f4f4">r</text>
<line x1="456.5" y1="386" x2="456.8" y2="392" stroke="#f4f4f4" stroke-width="0.6"/>
<path d="M764.5,159.7 C766.5,159.8 770.3,160.1 772.2,161.0 C774.1,161.9 775.0,163.3 775.8,165.4 C776.6,167.5 776.5,170.5 776.8,173.6 C777.1,176.7 777.2,180.8 777.8,183.8 C778.4,186.9 779.8,188.5 780.4,191.9 C781.0,195.3 781.7,200.1 781.7,204.2 C781.8,208.3 781.5,213.0 780.7,216.4 C779.9,219.8 778.5,222.6 776.8,224.6 C775.1,226.6 773.4,227.7 770.7,228.7 C768.0,229.7 763.8,230.5 760.4,230.5 C757.0,230.5 753.1,230.0 750.2,228.7 C747.3,227.4 744.6,225.3 743.1,222.6 C741.6,219.9 741.1,216.1 741.1,212.3 C741.1,208.6 742.1,204.2 743.1,200.1 C744.1,196.0 745.7,192.3 747.2,187.9 C748.7,183.5 750.8,177.5 752.3,173.6 C753.8,169.7 755.0,166.6 756.4,164.4 C757.8,162.2 759.0,161.1 760.4,160.3 C761.8,159.5 762.5,159.6 764.5,159.7Z" fill="url(#lungg)" stroke="#2a1416" stroke-width="1"/>
<path d="M798.3,158.2 C800.0,157.7 802.0,158.1 804.4,159.3 C806.8,160.5 809.9,162.7 812.6,165.4 C815.3,168.1 818.3,171.8 820.7,175.5 C823.1,179.2 825.1,183.7 826.8,187.8 C828.5,191.9 830.0,195.9 830.9,200.0 C831.8,204.1 832.1,208.5 831.9,212.2 C831.7,215.9 831.1,219.7 829.9,222.4 C828.7,225.1 827.3,227.2 824.8,228.5 C822.2,229.8 818.0,230.8 814.6,230.5 C811.2,230.2 807.5,228.2 804.4,226.5 C801.3,224.8 798.5,222.8 796.3,220.4 C794.1,218.0 792.4,215.6 791.2,212.2 C790.0,208.8 789.4,204.4 789.2,200.0 C789.0,195.6 789.7,190.4 790.2,185.7 C790.7,180.9 791.5,175.4 792.2,171.5 C792.9,167.6 793.3,164.5 794.3,162.3 C795.3,160.1 796.6,158.7 798.3,158.2Z" fill="url(#lungg)" stroke="#2a1416" stroke-width="1"/>
<path d="M764.5,193 L758.4,200.1 L754.3,204.2 L750.2,210.3 L748,214" fill="none" stroke="#4a1418" stroke-width="0.9" stroke-linejoin="round" stroke-linecap="round"/>
<path d="M754.3,204.2 L746.2,206.2 L743.5,205" fill="none" stroke="#4a1418" stroke-width="0.9" stroke-linejoin="round" stroke-linecap="round"/>
<path d="M750.2,210.3 L752.3,214.4 L753,218" fill="none" stroke="#4a1418" stroke-width="0.9" stroke-linejoin="round" stroke-linecap="round"/>
<path d="M754.3,204.2 L758.4,216.4 L759,220" fill="none" stroke="#4a1418" stroke-width="0.9" stroke-linejoin="round" stroke-linecap="round"/>
<path d="M770.7,185.8 L768.6,178 L768.6,171.5" fill="none" stroke="#4a1418" stroke-width="0.9" stroke-linejoin="round" stroke-linecap="round"/>
<path d="M768.6,178 L762.5,170.5" fill="none" stroke="#4a1418" stroke-width="0.9" stroke-linejoin="round" stroke-linecap="round"/>
<path d="M766,189 L759.4,180.7 L755,178" fill="none" stroke="#4a1418" stroke-width="0.9" stroke-linejoin="round" stroke-linecap="round"/>
<path d="M764.5,193 L757.4,189.9 L753.3,194" fill="none" stroke="#4a1418" stroke-width="0.9" stroke-linejoin="round" stroke-linecap="round"/>
<path d="M761,191.5 L757,196" fill="none" stroke="#4a1418" stroke-width="0.9" stroke-linejoin="round" stroke-linecap="round"/>
<path d="M764.5,193 L770.7,198 L768.6,206.2 L771.7,210.3" fill="none" stroke="#4a1418" stroke-width="0.9" stroke-linejoin="round" stroke-linecap="round"/>
<path d="M768.6,206.2 L764,209" fill="none" stroke="#4a1418" stroke-width="0.9" stroke-linejoin="round" stroke-linecap="round"/>
<path d="M770.7,198 L773,202" fill="none" stroke="#4a1418" stroke-width="0.9" stroke-linejoin="round" stroke-linecap="round"/>
<path d="M823.8,212.2 L826,216 L827.5,221" fill="none" stroke="#4a1418" stroke-width="0.9" stroke-linejoin="round" stroke-linecap="round"/>
<path d="M820.7,206.1 L826,204.5 L829,205" fill="none" stroke="#4a1418" stroke-width="0.9" stroke-linejoin="round" stroke-linecap="round"/>
<path d="M820.7,206.1 L817,214 L816,220" fill="none" stroke="#4a1418" stroke-width="0.9" stroke-linejoin="round" stroke-linecap="round"/>
<path d="M814.6,198 L819.5,192.5 L823,190.5" fill="none" stroke="#4a1418" stroke-width="0.9" stroke-linejoin="round" stroke-linecap="round"/>
<path d="M814.6,198 L811,205 L811.5,212" fill="none" stroke="#4a1418" stroke-width="0.9" stroke-linejoin="round" stroke-linecap="round"/>
<path d="M811,205 L806,210" fill="none" stroke="#4a1418" stroke-width="0.9" stroke-linejoin="round" stroke-linecap="round"/>
<path d="M808.5,191.8 L806.5,182 L807,174" fill="none" stroke="#4a1418" stroke-width="0.9" stroke-linejoin="round" stroke-linecap="round"/>
<path d="M806.5,182 L811,176" fill="none" stroke="#4a1418" stroke-width="0.9" stroke-linejoin="round" stroke-linecap="round"/>
<path d="M808.5,191.8 L812.8,183 L815.5,181" fill="none" stroke="#4a1418" stroke-width="0.9" stroke-linejoin="round" stroke-linecap="round"/>
<path d="M802.4,185.7 L797.5,193 L795.5,200" fill="none" stroke="#4a1418" stroke-width="0.9" stroke-linejoin="round" stroke-linecap="round"/>
<path d="M797.5,193 L794,196" fill="none" stroke="#4a1418" stroke-width="0.9" stroke-linejoin="round" stroke-linecap="round"/>
<path d="M804,194 L800,204 L800.5,210" fill="none" stroke="#4a1418" stroke-width="0.9" stroke-linejoin="round" stroke-linecap="round"/>
<path d="M800,204 L797,208" fill="none" stroke="#4a1418" stroke-width="0.9" stroke-linejoin="round" stroke-linecap="round"/>
<path d="M782.2,170 L782.2,172.5 C779,176 774,179 769.5,183 C765,187 761,192 757.5,197.5 L753.3,203.6 L755.2,204.8 L759.6,198.8 C763,193.8 767,189.4 771.5,186 C776,182.5 781,180 785.6,177 C790,180 795,182.5 800,186 C805,189.5 810,194.5 813.5,199 C817,203.5 820,208 822.7,213 L824.9,211.8 C822.5,206.5 819.5,201.5 816,197 C812.5,192 808,187.5 803.5,183.5 C798.5,179 793,176 789.1,172.5 L789.1,170Z" fill="#d8423f" stroke="#4a1014" stroke-width="0.8"/>
<path d="M781.9,149.5 L789.2,149.5 L789.1,171.5 L782.1,171.5Z" fill="#d8423f" stroke="#4a1014" stroke-width="0.8"/>
<line x1="782.2" y1="152" x2="788.9" y2="152" stroke="#7a1418" stroke-width="0.6"/>
<line x1="782.2" y1="154.8" x2="788.9" y2="154.8" stroke="#7a1418" stroke-width="0.6"/>
<line x1="782.2" y1="157.6" x2="788.9" y2="157.6" stroke="#7a1418" stroke-width="0.6"/>
<line x1="782.2" y1="160.4" x2="788.9" y2="160.4" stroke="#7a1418" stroke-width="0.6"/>
<line x1="782.2" y1="163.2" x2="788.9" y2="163.2" stroke="#7a1418" stroke-width="0.6"/>
<line x1="782.2" y1="166" x2="788.9" y2="166" stroke="#7a1418" stroke-width="0.6"/>
<line x1="782.2" y1="168.8" x2="788.9" y2="168.8" stroke="#7a1418" stroke-width="0.6"/>
</svg>
</body></html>
